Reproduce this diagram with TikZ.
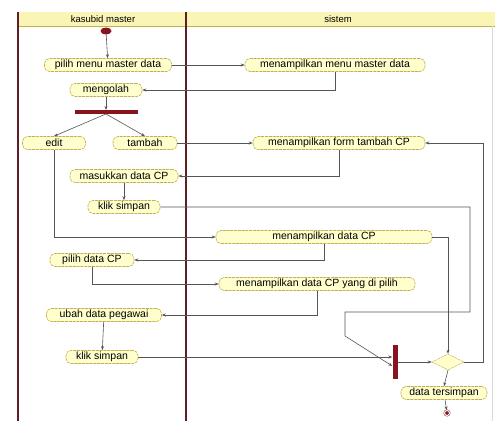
\documentclass[tikz,border=0pt]{standalone}
\usepackage{fontspec}
\setmainfont{Liberation Sans}
\usetikzlibrary{arrows.meta,shapes.geometric}
\definecolor{lane}{RGB}{95,30,35}
\definecolor{actfill}{RGB}{255,255,205}
\definecolor{actdraw}{RGB}{195,175,80}
\definecolor{hdr}{RGB}{250,245,180}
\definecolor{conn}{RGB}{85,85,85}
\definecolor{barred}{RGB}{135,20,30}
\begin{document}
\begin{tikzpicture}[x=1pt,y=-1pt,
  act/.style={draw=actdraw, fill=actfill, rounded corners=5pt, minimum height=13pt, inner sep=0.8pt,
    font=\fontsize{10.5}{11}\selectfont, dash pattern=on 3pt off 0.8pt, line width=0.6pt},
  flow/.style={draw=conn, line width=0.6pt, -{Stealth[length=4pt,width=3pt]}},
  syncbar/.style={fill=barred, inner sep=0pt, draw=none},
  lanel/.style={draw=lane, line width=2pt},
  hdrtext/.style={font=\fontsize{9.5}{10}\selectfont}]
\useasboundingbox (0,0) rectangle (495,421);
\fill[white] (0,0) rectangle (495,421);
% swimlanes
\fill[hdr] (18,12) rectangle (495,26);
\draw[actdraw, line width=0.8pt] (18,26) -- (495,26);
\draw[black!15] (492,26) -- (492,421);
\draw[lanel] (18,12) -- (18,421);
\draw[lanel] (186,12) -- (186,421);
\node[hdrtext] (h1) at (103,19) {kasubid master};
\node[hdrtext] (h2) at (338,19) {sistem};
% nodes
\node[ellipse, fill=barred, minimum width=11pt, minimum height=7pt, inner sep=0pt] (start) at (106,31) {};
\node[act, minimum width=127pt] (n1) at (108,65) {pilih menu master data};
\node[act, minimum width=180pt] (n2) at (335,65) {menampilkan menu master data};
\node[act, minimum width=72pt] (n3) at (106,90) {mengolah};
\node[syncbar, minimum width=63pt, minimum height=3.5pt] (fork) at (106,112) {};
\node[act, minimum width=63pt] (n4) at (54,143) {edit};
\node[act, minimum width=64pt] (n5) at (145,143) {tambah};
\node[act, minimum width=172pt] (n6) at (339,143) {menampilkan form tambah CP};
\node[act, minimum width=108pt] (n7) at (124,176) {masukkan data CP};
\node[act, minimum width=72pt] (n8) at (124,207) {klik simpan};
\node[act, minimum width=216pt] (n9) at (324,237) {menampilkan data CP};
\node[act, minimum width=84pt] (n10) at (92,260) {pilih data CP};
\node[act, minimum width=196pt] (n11) at (317,284) {menampilkan data CP yang di pilih};
\node[act, minimum width=115pt] (n12) at (104,315) {ubah data pegawai};
\node[act, minimum width=72pt] (n13) at (102,357) {klik simpan};
\node[syncbar, minimum width=5pt, minimum height=34pt] (join) at (395,362) {};
\node[diamond, draw=actdraw, fill=actfill, minimum width=32pt, minimum height=16pt, inner sep=0pt, aspect=2, dash pattern=on 3pt off 0.8pt] (dia) at (448,362) {};
\node[act, minimum width=86pt] (n14) at (444,393) {data tersimpan};
\node[circle, fill=barred, draw=barred, double=white, double distance=1pt, minimum size=5pt, inner sep=0pt] (end) at (447,413) {};
% helper coordinates
\coordinate (c1) at (470,207);
\coordinate (c2) at (470,312);
\coordinate (c3) at (345,312);
\coordinate (c4) at (345,336);
\coordinate (c5) at (483,143);
% connectors
\draw[flow] (start) -- (n1);
\draw[flow] (n1.east) -- (n2.west);
\draw[flow] (n2.south) |- (n3.east);
\draw[flow] (n3) -- (fork);
\draw[flow] (fork.south) -- (n4.north);
\draw[flow] (fork.south) -- (n5.north);
\draw[flow] (n5.east) -- (n6.west);
\draw[flow] (n6.south) |- (n7.east);
\draw[flow] (n7) -- (n8);
\draw[flow] (n8.east) -- (c1) -- (c2) -- (c3) -- (c4) -- ([yshift=-4pt]join.west);
\draw[flow] (n4.south) |- (n9.west);
\draw[flow] (n9.east) -| (dia.north);
\draw[flow] (n9.south) |- (n10.east);
\draw[flow] (n10.south) |- (n11.west);
\draw[flow] (n11.south) |- (n12.east);
\draw[flow] (n12) -- (n13);
\draw[flow] (n13.east) -- (n13.east -| join.west);
\draw[flow] (join.east |- dia.west) -- (dia.west);
\draw[flow] (dia.east) -| (c5) -- (n6.east);
\draw[flow] (dia.south) -- (n14.north);
\draw[flow] (n14) -- (end);
\end{tikzpicture}
\end{document}
